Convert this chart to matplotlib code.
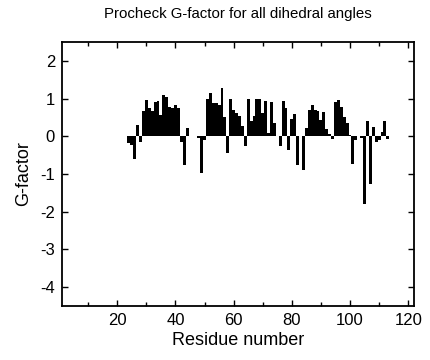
import matplotlib
matplotlib.use("Agg")
import matplotlib.pyplot as plt
from matplotlib.ticker import MultipleLocator

plt.rcParams['font.family'] = ['Liberation Sans', 'DejaVu Sans']
plt.rcParams['axes.unicode_minus'] = False

residues = list(range(24, 114))
gfactor = [
    -0.18, -0.24, -0.60, 0.29, -0.15, 0.67, 0.96, 0.75, 0.67, 0.91,   # 24-33
    0.94, 0.56, 1.10, 1.03, 0.78, 0.75, 0.82, 0.75, -0.15, -0.77,     # 34-43
    0.23, 0.0, 0.0, 0.0, -0.05, -0.97, -0.10, 0.98, 1.16, 0.88,       # 44-53
    0.87, 0.82, 1.27, 0.51, -0.43, 1.00, 0.69, 0.63, 0.53, 0.27,      # 54-63
    -0.26, 0.99, 0.40, 0.53, 1.00, 1.00, 0.63, 0.94, 0.09, 0.91,      # 64-73
    0.34, 0.02, -0.27, 0.94, 0.76, -0.37, 0.47, 0.58, -0.77, 0.0,     # 74-83
    -0.90, 0.22, 0.69, 0.84, 0.69, 0.67, 0.42, 0.65, 0.19, 0.07,      # 84-93
    -0.08, 0.91, 0.96, 0.78, 0.51, 0.34, 0.03, -0.73, -0.09, 0.0,     # 94-103
    -0.05, -1.80, 0.40, -1.27, 0.25, -0.15, -0.10, 0.12, 0.40, -0.08, # 104-113
]
xticks = [20, 40, 60, 80, 100, 120]

fig = plt.figure(figsize=(4.31, 3.60), dpi=100)
ax = fig.add_axes([0.1439, 0.15, 0.8167, 0.7333])
ax.bar(residues, gfactor, width=1.0, color='black', edgecolor='none')

ax.set_xlim(1, 122)
ax.set_ylim(-4.5, 2.5)
ax.set_xticks(xticks)
ax.xaxis.set_minor_locator(MultipleLocator(10))
ax.yaxis.set_major_locator(MultipleLocator(1))
ax.tick_params(which='both', direction='in', top=True, right=True, labelsize=12, width=1.0)
ax.tick_params(which='major', length=4, pad=5)
ax.tick_params(which='minor', length=3)
for s in ax.spines.values():
    s.set_linewidth(1.3)

ax.set_xlabel('Residue number', fontsize=13, labelpad=3)
ax.set_ylabel('G-factor', fontsize=13, labelpad=6)
ax.set_title('Procheck G-factor for all dihedral angles', fontsize=10.8, pad=17)

fig.savefig('out.png', dpi=100)
